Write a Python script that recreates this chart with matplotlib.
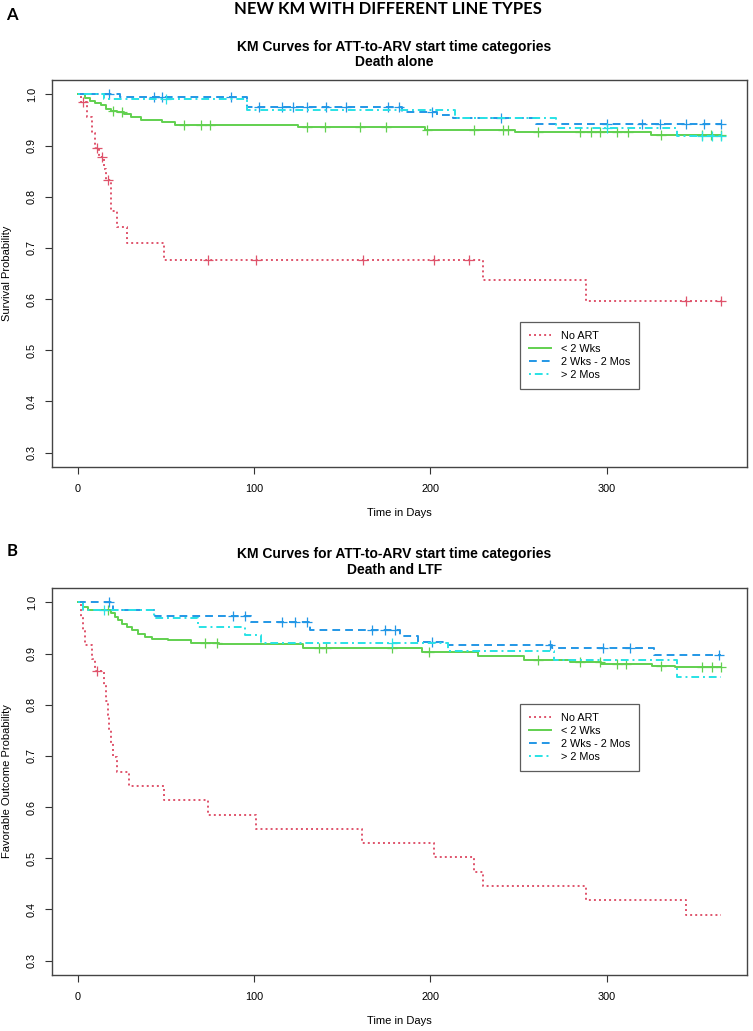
import numpy as np
import matplotlib
matplotlib.use("Agg")
from matplotlib import pyplot as plt
from matplotlib.lines import Line2D

# ---- data (step times in days, survival after the step) ----
# Panel A: death alone
a_noart_t = [0, 2, 5, 8, 10, 12, 15, 16, 19, 22, 28, 49, 230, 288]
a_noart_s = [1.0, 0.985, 0.955, 0.925, 0.895, 0.877, 0.855, 0.832, 0.773, 0.74, 0.71, 0.677, 0.637, 0.597]
a_noart_cens = [3, 10.7, 13.6, 17, 74, 101, 162, 202, 222, 345, 365]

a_lt2w_t = [0, 4, 7, 10, 13, 16, 19, 22, 26, 30, 36, 48, 55, 125, 197, 248, 325]
a_lt2w_s = [1.0, 0.993, 0.986, 0.983, 0.979, 0.972, 0.968, 0.965, 0.961, 0.955, 0.949, 0.945, 0.941,
            0.936, 0.931, 0.926, 0.921]
a_lt2w_cens = [20, 25, 60, 70, 75, 130, 140, 160, 175, 198, 225, 241, 244, 261, 285, 291, 296, 306,
               312, 331, 354, 359, 365]

a_2w2m_t = [0, 24, 96, 184, 204, 213, 260]
a_2w2m_s = [1.0, 0.995, 0.976, 0.966, 0.96, 0.953, 0.942]
a_2w2m_cens = [18, 43, 48, 87, 103, 116, 122, 130, 141, 152, 176, 182, 201, 240, 300, 320, 330, 345,
               355, 365]

a_gt2m_t = [0, 15, 96, 214, 271, 340]
a_gt2m_s = [1.0, 0.99, 0.969, 0.953, 0.935, 0.918]
a_gt2m_cens = [50, 300, 354, 360, 365]

# Panel B: death and LTF
b_noart_t = [0, 2, 3, 4, 8, 10, 15, 16, 17, 18, 19, 20, 22, 29, 49, 74, 101, 161, 202, 225, 230, 288, 345]
b_noart_s = [1.0, 0.972, 0.944, 0.917, 0.889, 0.866, 0.838, 0.808, 0.78, 0.753, 0.725, 0.697, 0.669,
             0.641, 0.613, 0.585, 0.558, 0.53, 0.502, 0.474, 0.446, 0.418, 0.39]
b_noart_cens = [11]

b_lt2w_t = [0, 3, 6, 19, 21, 23, 25, 28, 31, 34, 38, 42, 51, 64, 80, 128, 195, 227, 253, 279, 297, 326, 339]
b_lt2w_s = [1.0, 0.99, 0.985, 0.979, 0.972, 0.965, 0.958, 0.951, 0.945, 0.939, 0.933, 0.929, 0.926,
            0.921, 0.919, 0.911, 0.902, 0.896, 0.887, 0.884, 0.880, 0.876, 0.873]
b_lt2w_cens = [17, 72, 79, 137, 141, 178, 199, 261, 285, 296, 306, 311, 331, 354, 360, 365]

b_2w2m_t = [0, 20, 44, 98, 132, 183, 193, 210, 269, 327]
b_2w2m_s = [1.0, 0.985, 0.973, 0.962, 0.946, 0.934, 0.923, 0.917, 0.911, 0.898]
b_2w2m_cens = [18, 88, 95, 116, 123, 130, 167, 174, 180, 201, 268, 298, 313, 364]

b_gt2m_t = [0, 3, 43, 68, 95, 104, 210, 270, 340]
b_gt2m_s = [1.0, 0.985, 0.969, 0.952, 0.936, 0.921, 0.904, 0.887, 0.855]
b_gt2m_cens = [15, 178]

groups = ["No ART", "< 2 Wks", "2 Wks - 2 Mos", "> 2 Mos"]
END_DAY = 365

# R 4.x palette colours and lty 3/1/2/4
colors = ["#DF536B", "#61D04F", "#2297E6", "#28E2E5"]
dashes = [(1.0, 1.6), None, (4.0, 2.6), (1.0, 2.0, 4.0, 2.0)]

W, H = 753, 1031


def px(x, y):
    return x / W, 1 - y / H


def draw_km(ax, t, s, cens, color, dash):
    t = list(t) + [END_DAY]
    s = list(s) + [s[-1]]
    line, = ax.step(t, s, where="post", color=color, lw=1.4)
    if dash is not None:
        line.set_dashes(dash)
    idx = np.searchsorted(t, cens, side="right") - 1
    ax.plot(cens, np.array(s)[idx], ls="none", marker="+", ms=7, mew=0.9, color=color)


def style_axes(ax):
    ax.set_xlim(-14.6, 379.6)
    ax.set_ylim(0.272, 1.028)
    ax.set_xticks([0, 100, 200, 300])
    ax.set_yticks([0.3, 0.4, 0.5, 0.6, 0.7, 0.8, 0.9, 1.0])
    ax.set_yticklabels(["0.3", "0.4", "0.5", "0.6", "0.7", "0.8", "0.9", "1.0"], rotation=90, va="center")
    ax.tick_params(labelsize=7.8, length=5, width=0.8, color="#333333")
    ax.tick_params(axis="x", pad=7)
    ax.tick_params(axis="y", pad=6)
    for sp in ax.spines.values():
        sp.set_color("#444444")
        sp.set_linewidth(1.0)


plt.rcParams["font.family"] = ["Liberation Sans", "DejaVu Sans"]
fig = plt.figure(figsize=(W / 100, H / 100), dpi=100)

panels = [
    dict(box=(52, 80, 747, 467), title_y=(47, 62), sub="Death alone", ylab="Survival Probability",
         xlab_y=513, letter=("A", 15), leg=(520, 322),
         data=[(a_noart_t, a_noart_s, a_noart_cens), (a_lt2w_t, a_lt2w_s, a_lt2w_cens),
               (a_2w2m_t, a_2w2m_s, a_2w2m_cens), (a_gt2m_t, a_gt2m_s, a_gt2m_cens)]),
    dict(box=(52, 588, 747, 975), title_y=(554, 570), sub="Death and LTF", ylab="Favorable Outcome Probability",
         xlab_y=1021, letter=("B", 551), leg=(520, 704),
         data=[(b_noart_t, b_noart_s, b_noart_cens), (b_lt2w_t, b_lt2w_s, b_lt2w_cens),
               (b_2w2m_t, b_2w2m_s, b_2w2m_cens), (b_gt2m_t, b_gt2m_s, b_gt2m_cens)]),
]

for p in panels:
    x0, y0, x1, y1 = p["box"]
    ax = fig.add_axes([x0 / W, 1 - y1 / H, (x1 - x0) / W, (y1 - y0) / H])
    for (t, s, c), col, d in zip(p["data"], colors, dashes):
        draw_km(ax, t, s, c, col, d)
    style_axes(ax)
    cx = (x0 + x1) / 2
    fig.text(*px(cx - 5, p["title_y"][0]), "KM Curves for ATT-to-ARV start time categories",
             ha="center", va="center", fontsize=10, fontweight="bold")
    fig.text(*px(cx - 5, p["title_y"][1]), p["sub"], ha="center", va="center", fontsize=10, fontweight="bold")
    fig.text(*px(cx, p["xlab_y"]), "Time in Days", ha="center", va="center", fontsize=8)
    fig.text(*px(7, (y0 + y1) / 2), p["ylab"], ha="center", va="center", rotation=90, fontsize=8)
    fig.text(*px(12, p["letter"][1]), p["letter"][0], ha="center", va="center", fontsize=12,
             fontweight="bold", family=["Lato", "DejaVu Sans"])

    handles = []
    for col, d, name in zip(colors, dashes, groups):
        h = Line2D([], [], color=col, lw=1.4)
        if d is not None:
            h.set_dashes(d)
        handles.append(h)
    lx, ly = p["leg"]
    leg = ax.legend(handles, groups, loc="upper left",
                    bbox_to_anchor=((lx - x0) / (x1 - x0), 1 - (ly - y0) / (y1 - y0)),
                    fontsize=7.8, frameon=True, fancybox=False, edgecolor="#333333",
                    handlelength=2.0, handletextpad=0.9, borderpad=0.85, labelspacing=0.26,
                    borderaxespad=0)
    leg.get_frame().set_linewidth(0.9)

fig.text(*px(388, 9), "NEW KM WITH DIFFERENT LINE TYPES", ha="center", va="center", fontsize=12,
         fontweight="bold", family=["Lato", "DejaVu Sans"])

fig.savefig("out.png", dpi=100)
